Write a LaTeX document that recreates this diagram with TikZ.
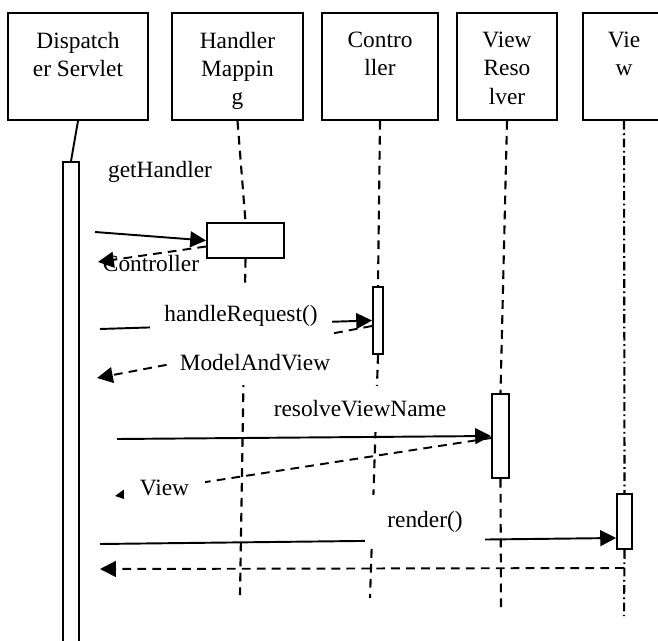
\documentclass[tikz,border=0pt]{standalone}
\usepackage{fontspec}
\setmainfont{Liberation Serif}
\usetikzlibrary{arrows.meta}

\begin{document}
\begin{tikzpicture}[x=0.02cm, y=-0.02cm,
    font=\fontsize{13.3}{16}\selectfont,
    objbox/.style={draw, line width=1.1pt, minimum height=2.14cm},
    objname/.style={anchor=north, inner sep=0pt, align=center},
    lifeline/.style={line width=1.2pt, dash pattern=on 5pt off 3.5pt},
    actbar/.style={draw, line width=1.1pt, fill=white, inner sep=0pt},
    call/.style={line width=1.1pt, -{Triangle[length=9pt, width=9pt]}},
    reply/.style={call, dash pattern=on 5pt off 3.5pt},
    msgtext/.style={fill=white, inner sep=0pt}]

      \useasboundingbox (0,0) rectangle (658,641);

      \node[objbox, minimum width=2.8cm] (disp) at (78,66.5) {};
      \node[objbox, minimum width=2.62cm] (hm) at (237.5,66.5) {};
      \node[objbox, minimum width=2.32cm] (ctl) at (380,66.5) {};
      \node[objbox, minimum width=2cm] (vr) at (507,66.5) {};
      \node[objbox, minimum width=1.64cm] (view) at (624,66.5) {};

      \node[objname] (dispname) at (78,32) {Dispatch\\er Servlet};
      \node[objname] (hmname) at (237.5,32) {Handler\\Mappin\\g};
      \node[objname] (ctlname) at (380,32) {Contro\\ller};
      \node[objname] (vrname) at (507,32) {View\\Reso\\lver};
      \node[objname] (viewname) at (624,32) {Vie\\w};

      \coordinate (hmend) at (240,595);
      \coordinate (ctlend) at (370,598);
      \coordinate (vrend) at (501,610);
      \coordinate (viewend) at (624,616);

      \node[actbar, minimum width=0.32cm, minimum height=9.96cm] (dispbar) at (71,411) {};
      \node[actbar, minimum width=1.54cm, minimum height=0.7cm] (hmbar) at (245.5,240.5) {};
      \node[actbar, minimum width=0.2cm, minimum height=1.34cm] (ctlbar) at (378,320.5) {};
      \node[actbar, minimum width=0.34cm, minimum height=1.68cm] (vrbar) at (500.5,436) {};
      \node[actbar, minimum width=0.3cm, minimum height=1.1cm] (viewbar) at (624.5,521.5) {};

      \draw[line width=1.1pt] (disp.south) to (dispbar.north);
      \draw[lifeline] (hm.south) to (hmbar.north);
      \draw[lifeline] (hmbar.south) to (hmend);
      \draw[lifeline] (ctl.south) to (ctlbar.north);
      \draw[lifeline] (ctlbar.south) to (ctlend);
      \draw[lifeline] (vr.south) to (vrbar.north);
      \draw[lifeline] (vrbar.south) to (vrend);
      \draw[lifeline, dash pattern=on 5pt off 2pt on 1pt off 2pt] (view.south) to (viewbar.north);
      \draw[lifeline, dash pattern=on 5pt off 2pt on 1pt off 2pt] (viewbar.south) to (viewend);

      \node[actbar, minimum width=0.32cm, minimum height=9.96cm] at (dispbar) {};
      \node[actbar, minimum width=1.54cm, minimum height=0.7cm] at (hmbar) {};
      \node[actbar, minimum width=0.2cm, minimum height=1.34cm] at (ctlbar) {};
      \node[actbar, minimum width=0.34cm, minimum height=1.68cm] at (vrbar) {};
      \node[actbar, minimum width=0.3cm, minimum height=1.1cm] at (viewbar) {};

      \coordinate (ghfrom) at (95,232);
      \coordinate (ctlto) at (98,262);
      \coordinate (hrfrom) at (100,329);
      \coordinate (mavto) at (97,378);
      \coordinate (rvfrom) at (117,439);
      \coordinate (viewto) at (115,496);
      \coordinate (rdfrom) at (100,544);
      \coordinate (rdback) at (624,568);
      \coordinate (backto) at (100,569);

      \node (ghtext) at (160,172) {getHandler};
      \node (ctltext) at (151,264) {Controller};

      \draw[call] (ghfrom) to (hmbar.west);
      \draw[reply] ([yshift=-0.12cm]hmbar.west) to (ctlto);
      \draw[call] (hrfrom) to (ctlbar.west);
      \draw[reply] ([yshift=-0.11cm]ctlbar.west) to (mavto);
      \draw[call] (rvfrom) to (vrbar.west);
      \draw[reply] ([yshift=-0.04cm]vrbar.west) to (viewto);
      \draw[call] (rdfrom) to ([yshift=-0.33cm]viewbar.west);
      \draw[reply] (rdback) to (backto);

      \node[msgtext, minimum width=3.66cm, minimum height=1.14cm] (hrtext) at (241,316) {handleRequest()};
      \node[msgtext, minimum width=3.4cm, minimum height=0.9cm] (mavtext) at (255,363) {ModelAndView};
      \node[msgtext, minimum width=3.8cm, minimum height=0.92cm] (rvtext) at (360,409) {resolveViewName};
      \node[msgtext, minimum width=1.62cm, minimum height=0.7cm] (viewtext) at (164.5,487.5) {View};
      \node[msgtext, minimum width=2.4cm, minimum height=1.06cm] (rdtext) at (425,521.5) {render()};
    \end{tikzpicture}
\end{document}
